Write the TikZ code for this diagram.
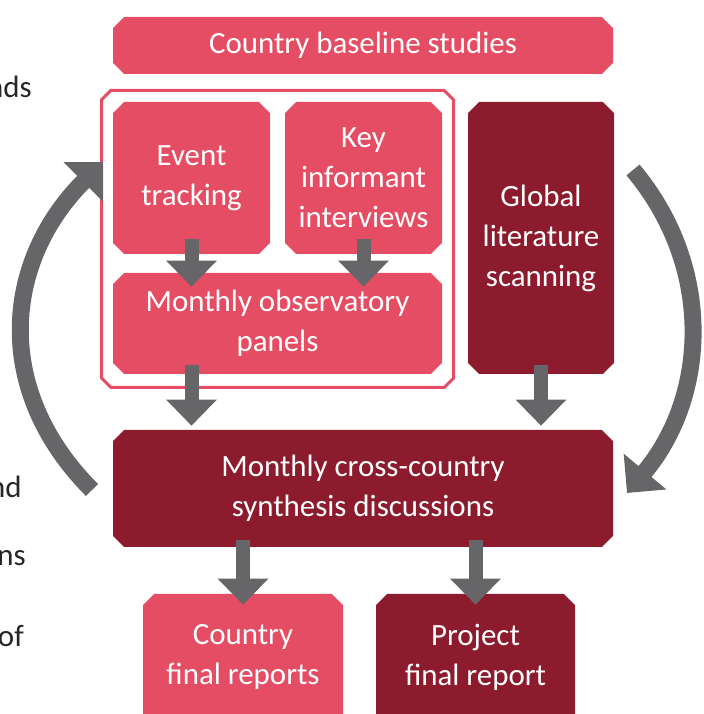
\documentclass[tikz,border=0pt]{standalone}
\usepackage{fontspec}
\setmainfont{Carlito}
\usepackage{tikz}
\usetikzlibrary{arrows}
\usetikzlibrary{arrows.meta}
\usetikzlibrary{shapes.misc}

\definecolor{rose}{RGB}{228,77,100}
\definecolor{wine}{RGB}{140,27,45}
\definecolor{arrowgray}{RGB}{102,102,104}

\begin{document}
\begin{tikzpicture}[
	box/.style={chamfered rectangle, chamfered rectangle xsep=0.14cm, chamfered rectangle ysep=0.14cm,
		inner sep=0pt, text=white, align=center, font=\fontsize{22pt}{28.5pt}\selectfont},
	light/.style={box, fill=rose},
	dark/.style={box, fill=wine},
	flow/.style={draw=arrowgray, line width=0.35cm, -{Triangle[width=1.225cm,length=0.65cm]}},
	loop/.style={draw=arrowgray, line width=0.425cm, -{Triangle[width=1.35cm,length=0.7cm]}},
	margin/.style={anchor=base east, inner sep=0pt, text=black!85, font=\fontsize{22pt}{28.5pt}\selectfont}
	]

	\useasboundingbox (0,0) rectangle (17.575,17.85);

	\node[margin] (t1) at (0.8,15.4) {nds};
	\node[margin] (t2) at (0.55,5.4) {nd};
	\node[margin] (t3) at (0.65,3.7) {ns};
	\node[margin] (t4) at (0.6,1.675) {of};

	\node[light, minimum width=12.5cm, minimum height=1.425cm] (base) at (9.075,16.7125) {Country baseline studies};

	\node[chamfered rectangle, chamfered rectangle xsep=0.16cm, chamfered rectangle ysep=0.16cm,
		draw=rose, line width=0.075cm, minimum width=8.8cm, minimum height=7.425cm] (frame) at (6.9375,11.875) {};

	\node[light, minimum width=3.925cm, minimum height=3.8cm] (event) at (4.7875,13.4) {Event\\tracking};
	\node[light, minimum width=3.925cm, minimum height=3.8cm] (key) at (9.0875,13.4) {Key\\informant\\interviews};
	\node[light, minimum width=8.225cm, minimum height=2.525cm] (panels) at (6.9375,9.7625) {Monthly observatory\\panels};

	\node[dark, minimum width=3.65cm, minimum height=6.8cm] (scan) at (13.525,11.9) {Global\\literature\\scanning};

	\node[dark, minimum width=12.5cm, minimum height=2.925cm] (synth) at (9.075,5.6375) {Monthly cross-country\\synthesis discussions};

	\node[light, chamfered rectangle corners={north east, north west}, minimum width=5cm, minimum height=3.15cm] (crep) at (6.075,1.425) {Country\\final reports};
	\node[dark, chamfered rectangle corners={north east, north west}, minimum width=4.975cm, minimum height=3.15cm] (prep) at (11.8875,1.425) {Project\\final report};

	\draw[flow, shorten <=-0.375cm, shorten >=-0.35cm] (event.south) -- (event.south |- panels.north);
	\draw[flow, shorten <=-0.375cm, shorten >=-0.35cm] (key.south) -- (key.south |- panels.north);

	\draw[flow, shorten <=-0.225cm, shorten >=0.1cm] (panels.south -| event.south) -- (synth.north -| event.south);
	\draw[flow, shorten <=-0.225cm, shorten >=0.1cm] (scan.south) -- (scan.south |- synth.north);

	\draw[flow, shorten <=-0.175cm, shorten >=-0.275cm] (synth.south -| crep.north) -- (crep.north);
	\draw[flow, shorten <=-0.175cm, shorten >=-0.275cm] (synth.south -| prep.north) -- (prep.north);

	\coordinate (lowL) at (2.3,5.6);
	\coordinate (topL) at (2.575,13.8);
	\coordinate (topR) at (15.825,13.6);
	\coordinate (lowR) at (15.675,5.525);

	\draw[loop] (lowL) to[out=135, in=-135, looseness=1.1] (topL);
	\draw[loop] (topR) to[out=-50, in=50] (lowR);

\end{tikzpicture}
\end{document}
